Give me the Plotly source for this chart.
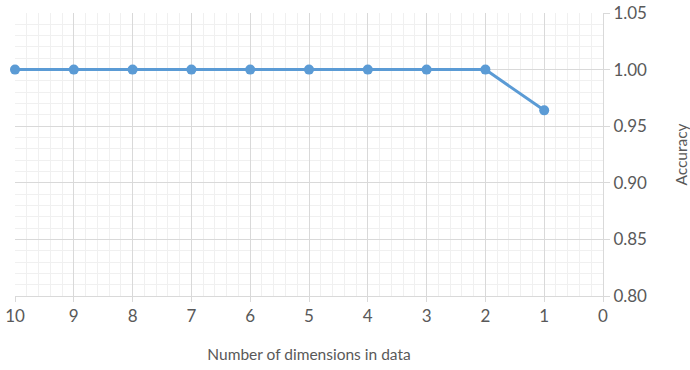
import plotly.graph_objects as go

dimensions = [10, 9, 8, 7, 6, 5, 4, 3, 2, 1]
accuracy = [1.0, 1.0, 1.0, 1.0, 1.0, 1.0, 1.0, 1.0, 1.0, 0.964]

grey_text = "#595959"
font_family = "Lato, 'Open Sans', sans-serif"

fig = go.Figure()
fig.add_trace(go.Scatter(
    x=dimensions, y=accuracy, mode="lines+markers",
    line=dict(color="#5b9bd5", width=3),
    marker=dict(color="#5b9bd5", size=10),
    showlegend=False,
    cliponaxis=False,
))

fig.update_layout(
    width=690, height=370,
    margin=dict(l=15, r=87, t=13, b=74),
    paper_bgcolor="white", plot_bgcolor="white",
    font=dict(family=font_family, size=17, color=grey_text),
    xaxis=dict(
        range=[10, 0], dtick=1, tick0=0, automargin=False,
        showgrid=True, gridcolor="#d9d9d9", gridwidth=1,
        minor=dict(dtick=0.2, showgrid=True, gridcolor="#f0f0f0", gridwidth=1),
        showline=True, linecolor="#d9d9d9", linewidth=1,
        ticks="outside", ticklen=5, tickcolor="#d9d9d9",
        zeroline=False,
        title=dict(text="Number of dimensions in data", font=dict(size=15.5, color=grey_text), standoff=23),
        tickfont=dict(size=17, color=grey_text),
    ),
    yaxis=dict(
        range=[0.80, 1.05], dtick=0.05, tick0=0.8, tickformat=".2f",
        side="right", automargin=False,
        showgrid=True, gridcolor="#d9d9d9", gridwidth=1,
        minor=dict(dtick=0.01, showgrid=True, gridcolor="#f0f0f0", gridwidth=1),
        showline=True, linecolor="#d9d9d9", linewidth=1,
        ticks="outside", ticklen=6, tickcolor="#d9d9d9",
        zeroline=False,
        title=dict(text="Accuracy", font=dict(size=15.5, color=grey_text), standoff=30),
        tickfont=dict(size=17, color=grey_text),
    ),
)

fig.write_html("out.html", config={"displayModeBar": False},
               post_script="document.body.style.margin='0';")
